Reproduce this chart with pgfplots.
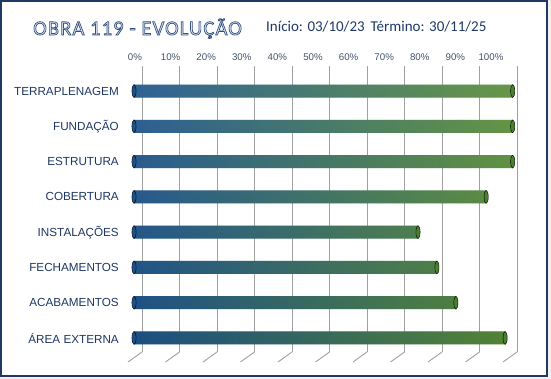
\documentclass[border=0pt]{standalone}
\usepackage{pgfplots}
\usepackage{pgfplotstable}
\pgfplotsset{compat=1.18}
\usepackage{fontspec}
\setmainfont{Liberation Sans}
\newfontfamily\calfont{Carlito}
\newfontfamily\titlefont[LetterSpace=5.6]{Carlito}
\definecolor{navy}{RGB}{31,56,100}
\definecolor{tickc}{RGB}{68,84,106}
\definecolor{barblue}{RGB}{34,98,162}
\definecolor{bargreen}{RGB}{104,164,64}
\definecolor{capgreen}{RGB}{72,128,46}
\definecolor{capblue}{RGB}{30,80,138}
\definecolor{gridc}{RGB}{160,160,160}
\definecolor{tfill}{RGB}{222,231,243}

\pgfplotstableread{
y val zero
0 100 0
1 100 0
2 100 0
3 93 0
4 75 0
5 80 0
6 85 0
7 98 0
}\obradata

\begin{document}
\begin{tikzpicture}
% background and frame
\fill[black!5] (0bp,0bp) rectangle (551bp,379bp);
\filldraw[fill=white, draw=navy, line width=2bp] (1bp,3bp) rectangle (547bp,378bp);
% title (light fill with dark outline)
\node[anchor=base west, inner sep=0pt, font=\titlefont\fontsize{20.5bp}{24bp}\selectfont] at (33bp,344bp)
  {\color{tfill}\special{pdf:literal direct 2 Tr 0.7 w 0.20 0.31 0.50 RG}OBRA 119 - EVOLUÇÃO\special{pdf:literal direct 0 Tr}};
\node[anchor=base west, inner sep=0pt, text=navy, font=\calfont\fontsize{15bp}{18bp}\selectfont] at (266bp,347bp) {Início: 03/10/23\hspace{6bp}Término: 30/11/25};

% grid (back wall)
\begin{axis}[
  at={(142bp,27bp)}, anchor=south west,
  width=375bp, height=286bp, scale only axis,
  xmin=0, xmax=100, ymin=0, ymax=1,
  xtick={0,10,...,100}, xticklabels={},
  ytick=\empty,
  xmajorgrids, grid style={gridc, line width=0.9bp},
  axis line style={draw=none}, major tick length=0pt,
  clip=false,
]
\pgfplotsinvokeforeach{0,10,...,100}{
  \draw[gridc, line width=0.9bp] (axis cs:#1,0) -- ++(-14bp,-10bp);
}
\end{axis}

% bars
\begin{axis}[
  at={(134bp,23.4bp)}, anchor=south west,
  width=378.7bp, height=282.2bp, scale only axis,
  xmin=0, xmax=100, ymin=-0.5, ymax=7.5, y dir=reverse,
  xtick=\empty,
  ytick={0,...,7},
  yticklabels={TERRAPLENAGEM,FUNDAÇÃO,ESTRUTURA,COBERTURA,INSTALAÇÕES,FECHAMENTOS,ACABAMENTOS,ÁREA EXTERNA},
  yticklabel shift=15bp,
  yticklabel style={anchor=east, inner sep=0pt, text=navy, font=\fontsize{11.7bp}{13bp}\selectfont},
  axis line style={draw=none}, major tick length=0pt,
  clip=false,
]
\addplot[only marks, mark=*, mark size=6.5bp, mark options={xscale=0.32, fill=capblue, draw=none}] table[x=zero, y=y] {\obradata};
\addplot[xbar, bar width=13bp, bar shift=0pt, draw=none, left color=barblue, right color=bargreen] table[x=val, y=y] {\obradata};
\addplot[xbar, bar width=13bp, bar shift=0pt, draw=none, top color=black!60, middle color=white, bottom color=black, fill opacity=0.2] table[x=val, y=y] {\obradata};
\addplot[only marks, mark=*, mark size=6.5bp, mark options={xscale=0.32, fill=capgreen, draw=none}] table[x=val, y=y] {\obradata};
\end{axis}

% percentage labels (front)
\begin{axis}[
  at={(135bp,322bp)}, anchor=south west,
  width=356bp, height=4bp, scale only axis,
  xmin=0, xmax=100, ymin=0, ymax=1,
  xtick={0,10,...,100},
  xticklabels={0\%,10\%,20\%,30\%,40\%,50\%,60\%,70\%,80\%,90\%,100\%},
  xticklabel style={anchor=center, inner sep=0pt, text=tickc, font=\fontsize{9.7bp}{11bp}\selectfont},
  ytick=\empty,
  axis line style={draw=none}, major tick length=0pt,
]
\end{axis}
\end{tikzpicture}
\end{document}
